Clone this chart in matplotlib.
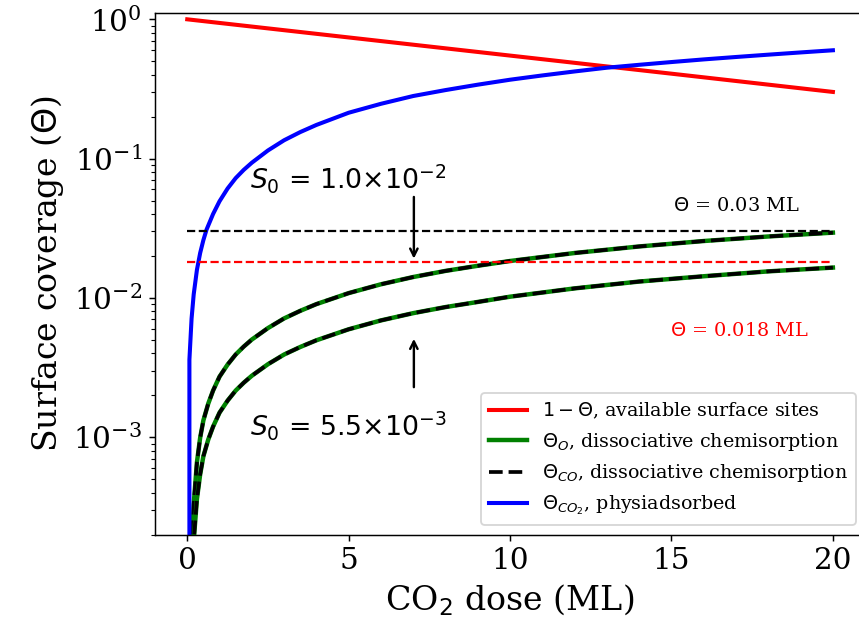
#!/usr/bin/env python3
"""
Surface coverage vs CO2 dose (log scale), S0 = 1.0e-2 and 5.5e-3 curves.
-> out.png
"""
import matplotlib
matplotlib.use("Agg")
import matplotlib.pyplot as plt

# values
RED_X = [0, 5, 10, 15, 20]
RED_Y = [1.0, 0.741, 0.549, 0.407, 0.301]

BLUE_X = [0, 0.067, 0.134, 0.2, 0.3, 0.4, 0.5, 0.6, 0.8, 1.0, 1.25, 1.5,
          1.75, 2.0, 2.5, 3.0, 3.5, 4, 5, 6, 7, 8, 9, 10, 11, 12, 13, 14,
          15, 16, 17, 18, 19, 20]
BLUE_Y = [0.0, 0.0036, 0.0071, 0.0106, 0.0159, 0.021, 0.026, 0.031, 0.040,
          0.0494, 0.061, 0.0724, 0.083, 0.0934, 0.1144, 0.1354, 0.155, 0.1744,
          0.2134, 0.2474, 0.2814, 0.3104, 0.3394, 0.3684, 0.3954, 0.4224,
          0.4494, 0.4714, 0.4934, 0.5154, 0.5364, 0.5574, 0.5784, 0.5994]

# S0 = 1.0e-2
HI_X = [0, 0.1, 0.13, 0.17, 0.2, 0.3, 0.4, 0.5, 0.65, 0.8, 1.0, 1.25, 1.5,
        1.75, 2.0, 2.5, 3.0, 3.5, 4, 5, 6, 7, 8, 9, 10, 12, 14, 16, 18, 20]
HI_Y = [0.0, 0.0, 9.9e-5, 2.3e-4, 3.3e-4, 6.6e-4, 9.9e-4, 1.32e-3, 1.74e-3,
        2.16e-3, 2.72e-3, 3.32e-3, 3.92e-3, 4.47e-3, 5.02e-3, 6.07e-3,
        7.12e-3, 8.07e-3, 9.02e-3, 0.01082, 0.01252, 0.01412, 0.01562,
        0.0170, 0.0184, 0.0210, 0.0234, 0.0256, 0.0276, 0.0294]

# S0 = 5.5e-3
LO_X = HI_X
LO_Y = [0.0, 0.0, 5.4e-5, 1.27e-4, 1.8e-4, 3.6e-4, 5.4e-4, 7.3e-4, 9.6e-4,
        1.19e-3, 1.5e-3, 1.83e-3, 2.16e-3, 2.46e-3, 2.76e-3, 3.34e-3,
        3.92e-3, 4.44e-3, 4.96e-3, 5.95e-3, 6.89e-3, 7.77e-3, 8.59e-3,
        9.35e-3, 0.0102, 0.0117, 0.0131, 0.0143, 0.0155, 0.0165]

LEVEL_X = [0, 20]
LEVEL_HI = 0.03
LEVEL_LO = 0.018

plt.rcParams["font.family"] = "serif"

DPI = 133
fig = plt.figure(figsize=(859 / DPI, 631 / DPI), dpi=DPI)
ax = fig.add_axes([0.1804, 0.1529, 0.8268, 0.8265])
ax.set_yscale("log")

ax.plot(RED_X, RED_Y, color="red", lw=2.2,
        label=r"$1-\Theta$, available surface sites")
ax.plot(HI_X, HI_Y, color="green", lw=2.4,
        label=r"$\Theta_O$, dissociative chemisorption")
ax.plot(HI_X, HI_Y, color="black", ls="--", lw=2.0,
        label=r"$\Theta_{CO}$, dissociative chemisorption")
ax.plot(LO_X, LO_Y, color="green", lw=2.4)
ax.plot(LO_X, LO_Y, color="black", ls="--", lw=2.0)
ax.plot(BLUE_X, BLUE_Y, color="blue", lw=2.2,
        label=r"$\Theta_{CO_2}$, physiadsorbed")

ax.plot(LEVEL_X, [LEVEL_HI] * 2, color="black", ls="--", lw=1.2)
ax.plot(LEVEL_X, [LEVEL_LO] * 2, color="red", ls="--", lw=1.2)
ax.text(17.0, 0.046, r"$\Theta$ = 0.03 ML", fontsize=10.4, ha="center", va="center")
ax.text(17.1, 0.00575, r"$\Theta$ = 0.018 ML", fontsize=10.4, color="red",
        ha="center", va="center")

# S0 labels with arrows
ax.text(1.95, 0.072, r"$S_0$ = 1.0$\times$10$^{-2}$", fontsize=14.5,
        family="DejaVu Sans", ha="left", va="center")
ax.annotate("", xy=(7.02, LEVEL_LO), xytext=(7.02, 0.0564),
            arrowprops=dict(arrowstyle="->", color="black", lw=1.3))
ax.text(1.95, 0.00122, r"$S_0$ = 5.5$\times$10$^{-3}$", fontsize=14.5,
        family="DejaVu Sans", ha="left", va="center")
ax.annotate("", xy=(7.02, 0.0054), xytext=(7.02, 0.00215),
            arrowprops=dict(arrowstyle="->", color="black", lw=1.3))

ax.set_xlim(-1, 21)
ax.set_ylim(2e-4, 1.11)
ax.set_xticks([0, 5, 10, 15, 20])
ax.tick_params(labelsize=16)
ax.set_xlabel(r"CO$_2$ dose (ML)", fontsize=18)
ax.set_ylabel(r"Surface coverage ($\Theta$)", fontsize=18)
ax.legend(loc="lower right", fontsize=10.3)

fig.savefig("out.png", dpi=DPI)
